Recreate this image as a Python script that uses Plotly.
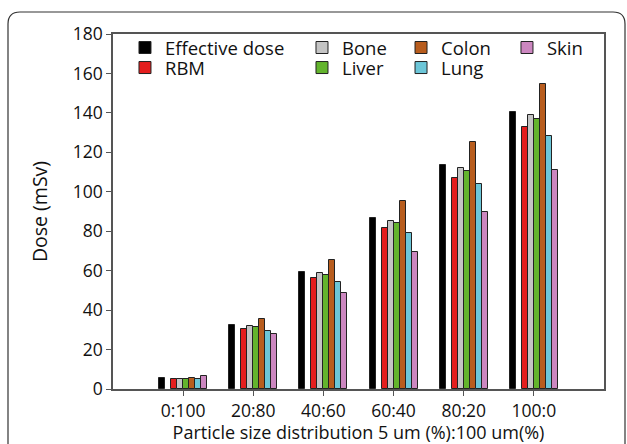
import plotly.graph_objects as go

categories = ["0:100", "20:80", "40:60", "60:40", "80:20", "100:0"]
series_names = ["Effective dose", "RBM", "Bone", "Liver", "Colon", "Lung", "Skin"]
effective = [5.7, 32.7, 59.5, 86.7, 113.7, 140.7]
rbm = [5.0, 30.6, 56.1, 81.6, 106.9, 132.6]
bone = [5.3, 32.0, 58.8, 85.3, 112.0, 139.0]
liver = [5.1, 31.3, 57.8, 84.1, 110.5, 136.8]
colon = [5.8, 35.5, 65.4, 95.1, 125.0, 154.8]
lung = [4.9, 29.6, 54.3, 79.1, 103.7, 128.5]
skin = [6.8, 27.8, 48.5, 69.3, 90.0, 111.0]
y_ticks = [0, 20, 40, 60, 80, 100, 120, 140, 160, 180]

values = [effective, rbm, bone, liver, colon, lung, skin]
colors = ["#000000", "#e41e1e", "#c4c4c4", "#63b42d", "#b85d1e", "#6cc6d8", "#cc87c0"]
slot = 6 / 70
offsets = [-4, -2, -1, 0, 1, 2, 3]
legend_ids = ["legend", "legend5", "legend2", "legend6", "legend3", "legend7", "legend4"]

leg_x = [0.0244, 0.3849, 0.5866, 0.8024]
leg_y = [0.9606, 0.9042]
legend_pos = {
    "legend": (leg_x[0], leg_y[0]), "legend2": (leg_x[1], leg_y[0]),
    "legend3": (leg_x[2], leg_y[0]), "legend4": (leg_x[3], leg_y[0]),
    "legend5": (leg_x[0], leg_y[1]), "legend6": (leg_x[1], leg_y[1]),
    "legend7": (leg_x[2], leg_y[1]),
}

fig = go.Figure()
for name, vals, col, off, lid in zip(series_names, values, colors, offsets, legend_ids):
    fig.add_trace(go.Bar(
        x=categories, y=vals, name=name,
        marker=dict(color=col, line=dict(color="#222222", width=1)),
        width=slot, offset=off * slot, legend=lid,
    ))

font_family = "Open Sans"
layout_legends = {}
for lid, (lx, ly) in legend_pos.items():
    layout_legends[lid] = dict(
        x=lx, y=ly, xanchor="left", yanchor="middle",
        orientation="v", bgcolor="rgba(0,0,0,0)",
        font=dict(family=font_family, size=18.5, color="#111111"),
        itemclick=False, itemdoubleclick=False,
    )

# rounded outer frame
Lf, Rf, Tf, Bf = (8 - 113) / 491, (625 - 113) / 491, (389 - 12) / 355, -0.3
rx, ry = 12 / 491, 12 / 355
frame_path = (f"M {Lf},{Bf} V {Tf - ry} Q {Lf},{Tf} {Lf + rx},{Tf} "
              f"H {Rf - rx} Q {Rf},{Tf} {Rf},{Tf - ry} V {Bf}")

fig.update_layout(
    width=627, height=444,
    margin=dict(l=113, r=23, t=34, b=55, autoexpand=False),
    paper_bgcolor="white", plot_bgcolor="white",
    font=dict(family=font_family, color="#111111"),
    showlegend=True,
    bargap=0,
    shapes=[dict(type="path", xref="paper", yref="paper", path=frame_path,
                 line=dict(color="#333333", width=1.2), layer="above")],
    **layout_legends,
)
fig.update_xaxes(
    type="category", range=[-1, 6], automargin=False,
    showline=True, linecolor="#555555", linewidth=1.5, mirror=True,
    ticks="outside", ticklen=5, tickcolor="#555555", tickwidth=1.2,
    tickfont=dict(size=17.5, family=font_family, color="#111111"),
    showgrid=False, zeroline=False,
    title=dict(text="Particle size distribution 5 um (%):100 um(%)",
               font=dict(size=18, family=font_family, color="#111111"), standoff=5),
)
fig.update_yaxes(
    range=[0, 180], tickvals=y_ticks, automargin=False,
    showline=True, linecolor="#555555", linewidth=1.5, mirror=True,
    ticks="outside", ticklen=5, tickcolor="#555555", tickwidth=1.2,
    tickfont=dict(size=17.5, family=font_family, color="#111111"),
    showgrid=False, zeroline=False,
    title=dict(text="Dose (mSv)", font=dict(size=19.5, family=font_family, color="#111111"), standoff=20),
)
fig.write_html("out.html", config={"displayModeBar": False},
               post_script="document.body.style.margin='0';document.body.style.overflow='hidden';")
